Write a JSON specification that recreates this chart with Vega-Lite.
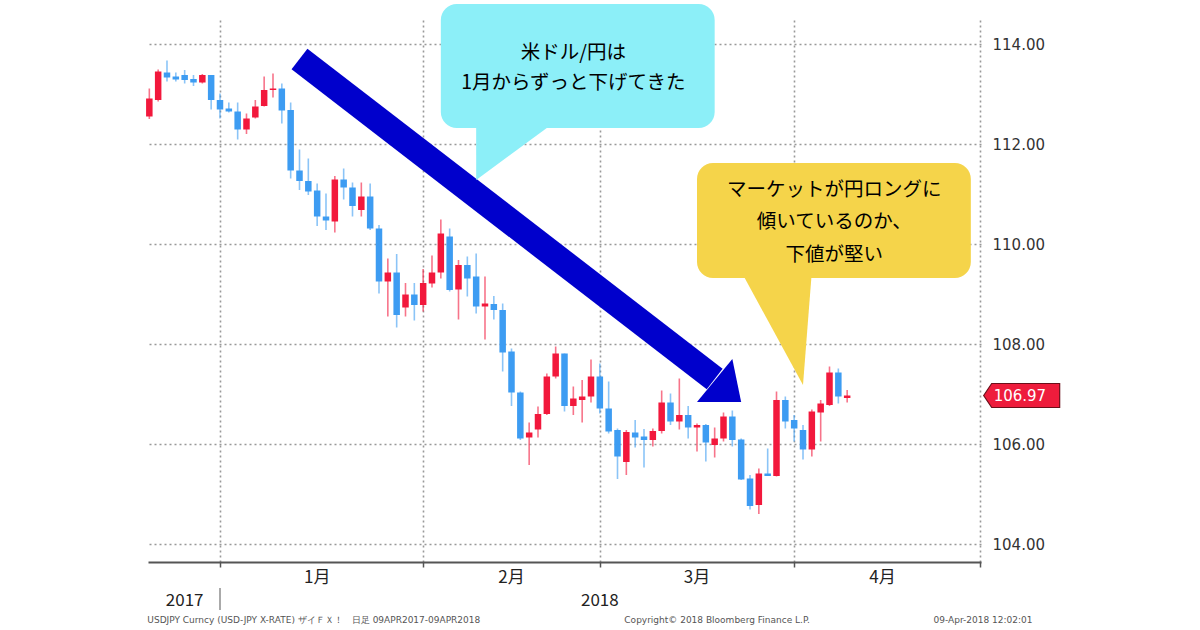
{
  "$schema": "https://vega.github.io/schema/vega-lite/v6.json",
  "description": "USD/JPY daily candles, Dec 2017 - Apr 2018, with callouts.",
  "autosize": {"type": "none"},
  "padding": {"left": 148, "top": 20, "right": 219, "bottom": 68},
  "width": 833,
  "height": 542,
  "background": "white",
  "datasets": {
    "ohlc": [
      {"d": "2017-12-19", "o": 112.55, "h": 113.11, "l": 112.50, "c": 112.91},
      {"d": "2017-12-20", "o": 112.88, "h": 113.49, "l": 112.85, "c": 113.45},
      {"d": "2017-12-21", "o": 113.43, "h": 113.67, "l": 113.25, "c": 113.33},
      {"d": "2017-12-22", "o": 113.35, "h": 113.43, "l": 113.25, "c": 113.29},
      {"d": "2017-12-25", "o": 113.38, "h": 113.48, "l": 113.21, "c": 113.28},
      {"d": "2017-12-26", "o": 113.30, "h": 113.38, "l": 113.16, "c": 113.23},
      {"d": "2017-12-27", "o": 113.23, "h": 113.40, "l": 113.21, "c": 113.38},
      {"d": "2017-12-28", "o": 113.38, "h": 113.38, "l": 112.69, "c": 112.88},
      {"d": "2017-12-29", "o": 112.88, "h": 113.01, "l": 112.51, "c": 112.69},
      {"d": "2018-01-01", "o": 112.71, "h": 112.83, "l": 112.63, "c": 112.65},
      {"d": "2018-01-02", "o": 112.65, "h": 112.83, "l": 112.09, "c": 112.29},
      {"d": "2018-01-03", "o": 112.29, "h": 112.61, "l": 112.20, "c": 112.51},
      {"d": "2018-01-04", "o": 112.53, "h": 112.88, "l": 112.51, "c": 112.75},
      {"d": "2018-01-05", "o": 112.76, "h": 113.35, "l": 112.75, "c": 113.08},
      {"d": "2018-01-08", "o": 113.08, "h": 113.41, "l": 112.93, "c": 113.11},
      {"d": "2018-01-09", "o": 113.11, "h": 113.21, "l": 112.41, "c": 112.67},
      {"d": "2018-01-10", "o": 112.68, "h": 112.83, "l": 111.31, "c": 111.47},
      {"d": "2018-01-11", "o": 111.47, "h": 111.89, "l": 111.08, "c": 111.26},
      {"d": "2018-01-12", "o": 111.26, "h": 111.71, "l": 110.98, "c": 111.05},
      {"d": "2018-01-15", "o": 111.07, "h": 111.21, "l": 110.36, "c": 110.55},
      {"d": "2018-01-16", "o": 110.55, "h": 111.01, "l": 110.28, "c": 110.47},
      {"d": "2018-01-17", "o": 110.45, "h": 111.36, "l": 110.23, "c": 111.29},
      {"d": "2018-01-18", "o": 111.29, "h": 111.51, "l": 110.89, "c": 111.13},
      {"d": "2018-01-19", "o": 111.13, "h": 111.23, "l": 110.55, "c": 110.76},
      {"d": "2018-01-22", "o": 110.68, "h": 111.23, "l": 110.55, "c": 110.95},
      {"d": "2018-01-23", "o": 110.95, "h": 111.21, "l": 110.28, "c": 110.31},
      {"d": "2018-01-24", "o": 110.31, "h": 110.38, "l": 109.01, "c": 109.25},
      {"d": "2018-01-25", "o": 109.25, "h": 109.71, "l": 108.55, "c": 109.43},
      {"d": "2018-01-26", "o": 109.43, "h": 109.80, "l": 108.33, "c": 108.58},
      {"d": "2018-01-29", "o": 108.73, "h": 109.22, "l": 108.55, "c": 108.99},
      {"d": "2018-01-30", "o": 108.99, "h": 109.22, "l": 108.47, "c": 108.78},
      {"d": "2018-01-31", "o": 108.78, "h": 109.50, "l": 108.65, "c": 109.22},
      {"d": "2018-02-01", "o": 109.21, "h": 109.77, "l": 109.13, "c": 109.43},
      {"d": "2018-02-02", "o": 109.43, "h": 110.49, "l": 109.31, "c": 110.21},
      {"d": "2018-02-05", "o": 110.15, "h": 110.31, "l": 109.05, "c": 109.08},
      {"d": "2018-02-06", "o": 109.09, "h": 109.68, "l": 108.49, "c": 109.58},
      {"d": "2018-02-07", "o": 109.58, "h": 109.75, "l": 108.95, "c": 109.31},
      {"d": "2018-02-08", "o": 109.35, "h": 109.81, "l": 108.61, "c": 108.75},
      {"d": "2018-02-09", "o": 108.75, "h": 109.35, "l": 108.09, "c": 108.81},
      {"d": "2018-02-12", "o": 108.80, "h": 108.96, "l": 108.49, "c": 108.68},
      {"d": "2018-02-13", "o": 108.68, "h": 108.81, "l": 107.45, "c": 107.83},
      {"d": "2018-02-14", "o": 107.85, "h": 107.91, "l": 106.76, "c": 107.03},
      {"d": "2018-02-15", "o": 107.03, "h": 107.05, "l": 106.08, "c": 106.11},
      {"d": "2018-02-16", "o": 106.13, "h": 106.43, "l": 105.58, "c": 106.23},
      {"d": "2018-02-19", "o": 106.29, "h": 106.75, "l": 106.13, "c": 106.60},
      {"d": "2018-02-20", "o": 106.60, "h": 107.41, "l": 106.58, "c": 107.35},
      {"d": "2018-02-21", "o": 107.35, "h": 107.95, "l": 107.31, "c": 107.81},
      {"d": "2018-02-22", "o": 107.81, "h": 107.81, "l": 106.65, "c": 106.76},
      {"d": "2018-02-23", "o": 106.76, "h": 107.15, "l": 106.58, "c": 106.91},
      {"d": "2018-02-26", "o": 106.88, "h": 107.28, "l": 106.43, "c": 106.95},
      {"d": "2018-02-27", "o": 106.95, "h": 107.69, "l": 106.83, "c": 107.35},
      {"d": "2018-02-28", "o": 107.35, "h": 107.61, "l": 106.61, "c": 106.71},
      {"d": "2018-03-01", "o": 106.71, "h": 107.25, "l": 106.21, "c": 106.25},
      {"d": "2018-03-02", "o": 106.28, "h": 106.31, "l": 105.30, "c": 105.75},
      {"d": "2018-03-05", "o": 105.64, "h": 106.28, "l": 105.38, "c": 106.24},
      {"d": "2018-03-06", "o": 106.23, "h": 106.48, "l": 105.93, "c": 106.13},
      {"d": "2018-03-07", "o": 106.15, "h": 106.30, "l": 105.53, "c": 106.08},
      {"d": "2018-03-08", "o": 106.08, "h": 106.31, "l": 105.95, "c": 106.26},
      {"d": "2018-03-09", "o": 106.26, "h": 107.07, "l": 106.21, "c": 106.83},
      {"d": "2018-03-12", "o": 106.83, "h": 107.01, "l": 106.38, "c": 106.45},
      {"d": "2018-03-13", "o": 106.45, "h": 107.31, "l": 106.29, "c": 106.58},
      {"d": "2018-03-14", "o": 106.58, "h": 106.76, "l": 106.11, "c": 106.33},
      {"d": "2018-03-15", "o": 106.33, "h": 106.41, "l": 105.85, "c": 106.38},
      {"d": "2018-03-16", "o": 106.38, "h": 106.40, "l": 105.65, "c": 106.03},
      {"d": "2018-03-19", "o": 105.98, "h": 106.33, "l": 105.73, "c": 106.11},
      {"d": "2018-03-20", "o": 106.11, "h": 106.63, "l": 106.05, "c": 106.55},
      {"d": "2018-03-21", "o": 106.55, "h": 106.67, "l": 105.95, "c": 106.08},
      {"d": "2018-03-22", "o": 106.09, "h": 106.11, "l": 105.28, "c": 105.29},
      {"d": "2018-03-23", "o": 105.31, "h": 105.38, "l": 104.69, "c": 104.76},
      {"d": "2018-03-26", "o": 104.78, "h": 105.51, "l": 104.60, "c": 105.41},
      {"d": "2018-03-27", "o": 105.41, "h": 105.91, "l": 105.36, "c": 105.36},
      {"d": "2018-03-28", "o": 105.36, "h": 107.05, "l": 105.35, "c": 106.88},
      {"d": "2018-03-29", "o": 106.88, "h": 106.95, "l": 106.31, "c": 106.45},
      {"d": "2018-03-30", "o": 106.48, "h": 106.58, "l": 106.05, "c": 106.31},
      {"d": "2018-04-02", "o": 106.28, "h": 106.38, "l": 105.69, "c": 105.89},
      {"d": "2018-04-03", "o": 105.89, "h": 106.69, "l": 105.75, "c": 106.65},
      {"d": "2018-04-04", "o": 106.63, "h": 106.88, "l": 106.05, "c": 106.81},
      {"d": "2018-04-05", "o": 106.78, "h": 107.55, "l": 106.76, "c": 107.43},
      {"d": "2018-04-06", "o": 107.43, "h": 107.51, "l": 106.81, "c": 106.95},
      {"d": "2018-04-09", "o": 106.92, "h": 107.08, "l": 106.83, "c": 106.97}
    ]
  },
  "encoding": {
    "x": {
      "field": "d",
      "type": "ordinal",
      "title": null,
      "scale": {
        "type": "point",
        "padding": 0.15,
        "domain": [
          "2017-12-19", "2017-12-20", "2017-12-21", "2017-12-22", "2017-12-25", "2017-12-26", "2017-12-27", "2017-12-28", "2017-12-29",
          "2018-01-01", "2018-01-02", "2018-01-03", "2018-01-04", "2018-01-05", "2018-01-08", "2018-01-09", "2018-01-10", "2018-01-11", "2018-01-12", "2018-01-15", "2018-01-16", "2018-01-17", "2018-01-18", "2018-01-19", "2018-01-22", "2018-01-23", "2018-01-24", "2018-01-25", "2018-01-26", "2018-01-29", "2018-01-30", "2018-01-31",
          "2018-02-01", "2018-02-02", "2018-02-05", "2018-02-06", "2018-02-07", "2018-02-08", "2018-02-09", "2018-02-12", "2018-02-13", "2018-02-14", "2018-02-15", "2018-02-16", "2018-02-19", "2018-02-20", "2018-02-21", "2018-02-22", "2018-02-23", "2018-02-26", "2018-02-27", "2018-02-28",
          "2018-03-01", "2018-03-02", "2018-03-05", "2018-03-06", "2018-03-07", "2018-03-08", "2018-03-09", "2018-03-12", "2018-03-13", "2018-03-14", "2018-03-15", "2018-03-16", "2018-03-19", "2018-03-20", "2018-03-21", "2018-03-22", "2018-03-23", "2018-03-26", "2018-03-27", "2018-03-28", "2018-03-29", "2018-03-30",
          "2018-04-02", "2018-04-03", "2018-04-04", "2018-04-05", "2018-04-06", "2018-04-09", "2018-04-10", "2018-04-11", "2018-04-12", "2018-04-13", "2018-04-16", "2018-04-17", "2018-04-18", "2018-04-19", "2018-04-20", "2018-04-23", "2018-04-24", "2018-04-25", "2018-04-26", "2018-04-27", "2018-04-30"
        ]
      },
      "axis": {
        "values": ["2017-12-29", "2018-01-31", "2018-02-28", "2018-03-30", "2018-04-30"],
        "labels": false,
        "grid": true,
        "gridColor": "#999999",
        "gridDash": [2, 3],
        "gridWidth": 1.6,
        "domainColor": "#555555",
        "domainWidth": 2,
        "tickColor": "#555555",
        "tickWidth": 1.5,
        "tickSize": 5
      }
    }
  },
  "layer": [
    {
      "data": {"name": "ohlc"},
      "mark": {"type": "rule", "strokeWidth": 1.6, "opacity": 0.6},
      "encoding": {
        "y": {
          "field": "l",
          "type": "quantitative",
          "title": null,
          "scale": {"domain": [103.64, 114.48], "zero": false, "nice": false},
          "axis": {
            "orient": "right",
            "values": [104, 106, 108, 110, 112, 114],
            "format": ".2f",
            "grid": true,
            "gridColor": "#999999",
            "gridDash": [2, 3],
            "gridWidth": 1.6,
            "domain": false,
            "ticks": false,
            "labelPadding": 11,
            "labelFont": "DejaVu Sans",
            "labelFontSize": 15,
            "labelColor": "#333333"
          }
        },
        "y2": {"field": "h"},
        "color": {
          "condition": {"test": "datum.c >= datum.o", "value": "#F2183C"},
          "value": "#3D9CF2"
        }
      }
    },
    {
      "data": {"name": "ohlc"},
      "mark": {"type": "bar", "width": 6.5},
      "encoding": {
        "y": {"field": "o", "type": "quantitative", "title": null},
        "y2": {"field": "c"},
        "color": {
          "condition": {"test": "datum.c >= datum.o", "value": "#F2183C"},
          "value": "#3D9CF2"
        }
      }
    },
    {
      "data": {"values": [{"d": "2018-01-11", "d2": "2018-03-19", "v": 113.70, "v2": 107.30}]},
      "mark": {"type": "rule", "color": "#0000CC", "strokeWidth": 26, "strokeCap": "butt"},
      "encoding": {
        "x2": {"field": "d2"},
        "y": {"field": "v", "type": "quantitative", "title": null},
        "y2": {"field": "v2"}
      }
    },
    {
      "data": {"values": [
        {"d": "2018-03-15", "v": 106.84, "v2": 106.84},
        {"d": "2018-03-21", "v": 107.70, "v2": 106.84},
        {"d": "2018-03-22", "v": 106.84, "v2": 106.84}
      ]},
      "mark": {"type": "area", "color": "#0000CC", "opacity": 1},
      "encoding": {
        "y": {"field": "v", "type": "quantitative", "title": null},
        "y2": {"field": "v2"}
      }
    },
    {
      "data": {"values": [{"d": "2018-02-02", "d2": "2018-03-19", "v": 114.80, "v2": 112.32}]},
      "mark": {"type": "rect", "color": "#8CEFF8", "cornerRadius": 16, "opacity": 1},
      "encoding": {
        "x2": {"field": "d2"},
        "y": {"field": "v", "type": "quantitative", "title": null},
        "y2": {"field": "v2"}
      }
    },
    {
      "data": {"values": [
        {"d": "2018-02-08", "v": 112.45, "v2": 111.28},
        {"d": "2018-02-21", "v": 112.45, "v2": 112.45}
      ]},
      "mark": {"type": "area", "color": "#8CEFF8", "opacity": 1},
      "encoding": {
        "y": {"field": "v", "type": "quantitative", "title": null},
        "y2": {"field": "v2"}
      }
    },
    {
      "data": {"values": [{"d": "2018-03-15", "d2": "2018-04-27", "v": 111.62, "v2": 109.32}]},
      "mark": {"type": "rect", "color": "#F5D44A", "cornerRadius": 16, "opacity": 1},
      "encoding": {
        "x2": {"field": "d2"},
        "y": {"field": "v", "type": "quantitative", "title": null},
        "y2": {"field": "v2"}
      }
    },
    {
      "data": {"values": [
        {"d": "2018-03-22", "v": 109.45, "v2": 109.45},
        {"d": "2018-04-02", "v": 109.45, "v2": 107.18},
        {"d": "2018-04-03", "v": 109.45, "v2": 109.45}
      ]},
      "mark": {"type": "area", "color": "#F5D44A", "opacity": 1},
      "encoding": {
        "y": {"field": "v", "type": "quantitative", "title": null},
        "y2": {"field": "v2"}
      }
    },
    {
      "data": {"values": [
        {"d": "2018-02-23", "v": 113.82, "t": "米ドル/円は"},
        {"d": "2018-02-23", "v": 113.22, "t": "1月からずっと下げてきた"}
      ]},
      "mark": {"type": "text", "font": "Noto Sans CJK JP", "fontSize": 19.5, "color": "#000000", "baseline": "middle", "align": "center"},
      "encoding": {
        "y": {"field": "v", "type": "quantitative", "title": null},
        "text": {"field": "t"}
      }
    },
    {
      "data": {"values": [
        {"d": "2018-04-06", "v": 111.08, "t": "マーケットが円ロングに"},
        {"d": "2018-04-06", "v": 110.44, "t": "傾いているのか、"},
        {"d": "2018-04-06", "v": 109.78, "t": "下値が堅い"}
      ]},
      "mark": {"type": "text", "font": "Noto Sans CJK JP", "fontSize": 19.5, "color": "#000000", "baseline": "middle", "align": "center", "dx": -4},
      "encoding": {
        "y": {"field": "v", "type": "quantitative", "title": null},
        "text": {"field": "t"}
      }
    },
    {
      "data": {"values": [
        {"d": "2018-01-15", "t": "1月"},
        {"d": "2018-02-14", "t": "2月"},
        {"d": "2018-03-15", "t": "3月"},
        {"d": "2018-04-13", "t": "4月"}
      ]},
      "mark": {"type": "text", "font": "Noto Sans CJK JP", "fontSize": 17, "color": "#222222", "baseline": "middle", "align": "center"},
      "encoding": {
        "y": {"datum": 103.32},
        "text": {"field": "t"}
      }
    },
    {
      "data": {"values": [
        {"d": "2017-12-25", "t": "2017"},
        {"d": "2018-02-28", "t": "2018"}
      ]},
      "mark": {"type": "text", "font": "Noto Sans CJK JP", "fontSize": 17, "color": "#222222", "baseline": "middle", "align": "center"},
      "encoding": {
        "y": {"datum": 102.86},
        "text": {"field": "t"}
      }
    },
    {
      "data": {"values": [{"d": "2017-12-29"}]},
      "mark": {"type": "rule", "color": "#AAAAAA", "strokeWidth": 2},
      "encoding": {
        "y": {"datum": 103.12},
        "y2": {"datum": 102.68}
      }
    },
    {
      "data": {"values": [
        {"d": "2017-12-19", "t": "USDJPY Curncy (USD-JPY X-RATE) ザイＦＸ！　日足 09APR2017-09APR2018"},
        {"d": "2018-03-05", "t": "Copyright© 2018 Bloomberg Finance L.P."},
        {"d": "2018-04-23", "t": "09-Apr-2018 12:02:01"}
      ]},
      "mark": {"type": "text", "font": "DejaVu Sans", "fontSize": 9, "color": "#555555", "baseline": "middle", "align": "left", "dx": -2},
      "encoding": {
        "y": {"datum": 102.48},
        "text": {"field": "t"}
      }
    },
    {
      "data": {"values": [{"d": "2018-04-30", "v": 106.97}]},
      "mark": {
        "type": "point",
        "shape": "M0.1,0L0.3,-0.3L2,-0.3L2,0.3L0.3,0.3Z",
        "size": 6400,
        "filled": true,
        "fill": "#EE1C3C",
        "stroke": "#6B0F1A",
        "strokeWidth": 1.2,
        "opacity": 1
      },
      "encoding": {
        "y": {"field": "v", "type": "quantitative", "title": null}
      }
    },
    {
      "data": {"values": [{"d": "2018-04-30", "v": 106.97, "t": "106.97"}]},
      "mark": {"type": "text", "font": "DejaVu Sans", "fontSize": 15, "color": "#FFFFFF", "baseline": "middle", "align": "left", "dx": 14},
      "encoding": {
        "y": {"field": "v", "type": "quantitative", "title": null},
        "text": {"field": "t"}
      }
    }
  ],
  "config": {
    "view": {"stroke": null}
  }
}
